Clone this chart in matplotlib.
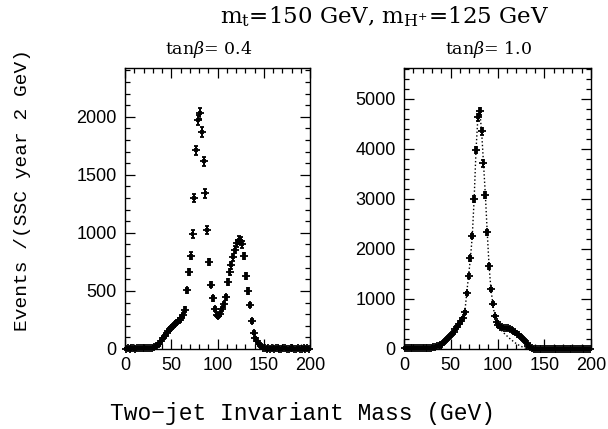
import matplotlib
matplotlib.use('Agg')
import matplotlib.pyplot as plt
from matplotlib.ticker import MultipleLocator
import numpy as np

# ── data: 2 GeV bins, events per SSC year ───────────────────────────────────
mass = np.arange(1, 200, 2)

ev_tb04 = [4, 6, 3, 5, 8, 4, 6, 9, 5, 7, 10, 8, 9, 12, 10,
           15, 25, 30, 45, 70, 95, 115, 135, 155, 172, 190, 205, 222, 238, 252, 268, 290,
           340, 505, 660, 805, 990, 1300, 1710, 1975, 2030, 1865, 1615, 1340, 1025, 750, 555, 435,
           345, 295, 285, 305, 345, 385, 445, 578, 660, 720, 790, 855, 910, 940, 930, 900,
           800, 630, 500, 380, 240, 140, 95, 65, 40, 22, 10,
           6, 4, 5, 3, 6, 4, 5, 7, 3, 4, 6, 5, 3, 4, 5, 6, 3, 4, 5, 3, 4, 6, 3, 5, 4]

ev_tb10 = [12, 18, 10, 15, 20, 14, 12, 18, 22, 15, 20, 25, 18, 22, 28,
           35, 45, 50, 55, 70, 100, 140, 175, 220, 260, 300, 340, 390, 440, 500, 550, 620,
           730, 1110, 1460, 1810, 2260, 3000, 3980, 4630, 4750, 4350, 3710, 3080, 2330, 1650, 1190, 900,
           660, 540, 470, 440, 430, 425, 420, 410, 395, 380, 360, 335, 305, 275, 240, 200,
           155, 110, 65, 30, 12, 8, 6, 5, 4, 6, 5,
           5, 4, 6, 3, 5, 4, 6, 5, 3, 4, 5, 6, 4, 3, 5, 4, 6, 5, 3, 4, 5, 4, 6, 3, 5]

# dotted curve (W peak only) departs from the data above 97 GeV
sig_tail_mass = np.arange(99, 137, 2)
sig_tail = [520, 450, 400, 355, 315, 280, 245, 210, 180, 150, 122, 97, 75, 55, 38, 24, 12, 4, 0]

ev_tb04 = np.array(ev_tb04, dtype=float)
ev_tb10 = np.array(ev_tb10, dtype=float)

sig_mass = np.concatenate([mass[mass <= 97], sig_tail_mass])
sig_ev = np.concatenate([ev_tb10[mass <= 97], sig_tail])

plt.rcParams['mathtext.fontset'] = 'dejavuserif'

fig = plt.figure(figsize=(6.08, 4.29), dpi=100)
ax1 = fig.add_axes([0.2056, 0.1865, 0.3043, 0.655])
ax2 = fig.add_axes([0.6645, 0.1865, 0.3076, 0.655])

num_font = 'Liberation Sans'

def draw(ax, y, ymax, major, minor):
    ax.errorbar(mass, y, xerr=1.0, yerr=np.sqrt(y), fmt='+', color='black',
                markersize=6, mew=1.3, elinewidth=1.1, capsize=1.6, capthick=1.0,
                clip_on=False, zorder=3)
    ax.set_xlim(0, 200)
    ax.set_ylim(0, ymax)
    ax.xaxis.set_major_locator(MultipleLocator(50))
    ax.xaxis.set_minor_locator(MultipleLocator(10))
    ax.yaxis.set_major_locator(MultipleLocator(major))
    ax.yaxis.set_minor_locator(MultipleLocator(minor))
    ax.tick_params(which='both', direction='in', top=True, right=True,
                   labelsize=13, width=0.9)
    ax.tick_params(which='major', length=7, pad=6)
    ax.tick_params(which='minor', length=3.5)
    for lab in ax.get_xticklabels() + ax.get_yticklabels():
        lab.set_family(num_font)
    for s in ax.spines.values():
        s.set_linewidth(1.0)

draw(ax1, ev_tb04, 2420, 500, 100)
draw(ax2, ev_tb10, 5620, 1000, 200)
ax2.plot(sig_mass, sig_ev, linestyle=':', color='black', linewidth=1.0, zorder=2)

ax1.set_title(r'tan$\beta$= 0.4', fontsize=12.5, family='DejaVu Serif', pad=10, x=0.45)
ax2.set_title(r'tan$\beta$= 1.0', fontsize=12.5, family='DejaVu Serif', pad=10, x=0.45)
fig.text(0.633, 0.96, r'm$_{\rm t}$=150 GeV, m$_{\rm H^{+}}$=125 GeV',
         ha='center', va='center', fontsize=16.5, family='DejaVu Serif')

fig.text(0.497, 0.035, 'Two\u2212jet Invariant Mass (GeV)', ha='center', va='center',
         fontsize=16.5, family='Liberation Mono')
fig.text(0.037, 0.557, 'Events /(SSC year 2 GeV)', ha='center', va='center',
         rotation=90, fontsize=14, family='Liberation Mono')

fig.savefig('out.png', dpi=100)
